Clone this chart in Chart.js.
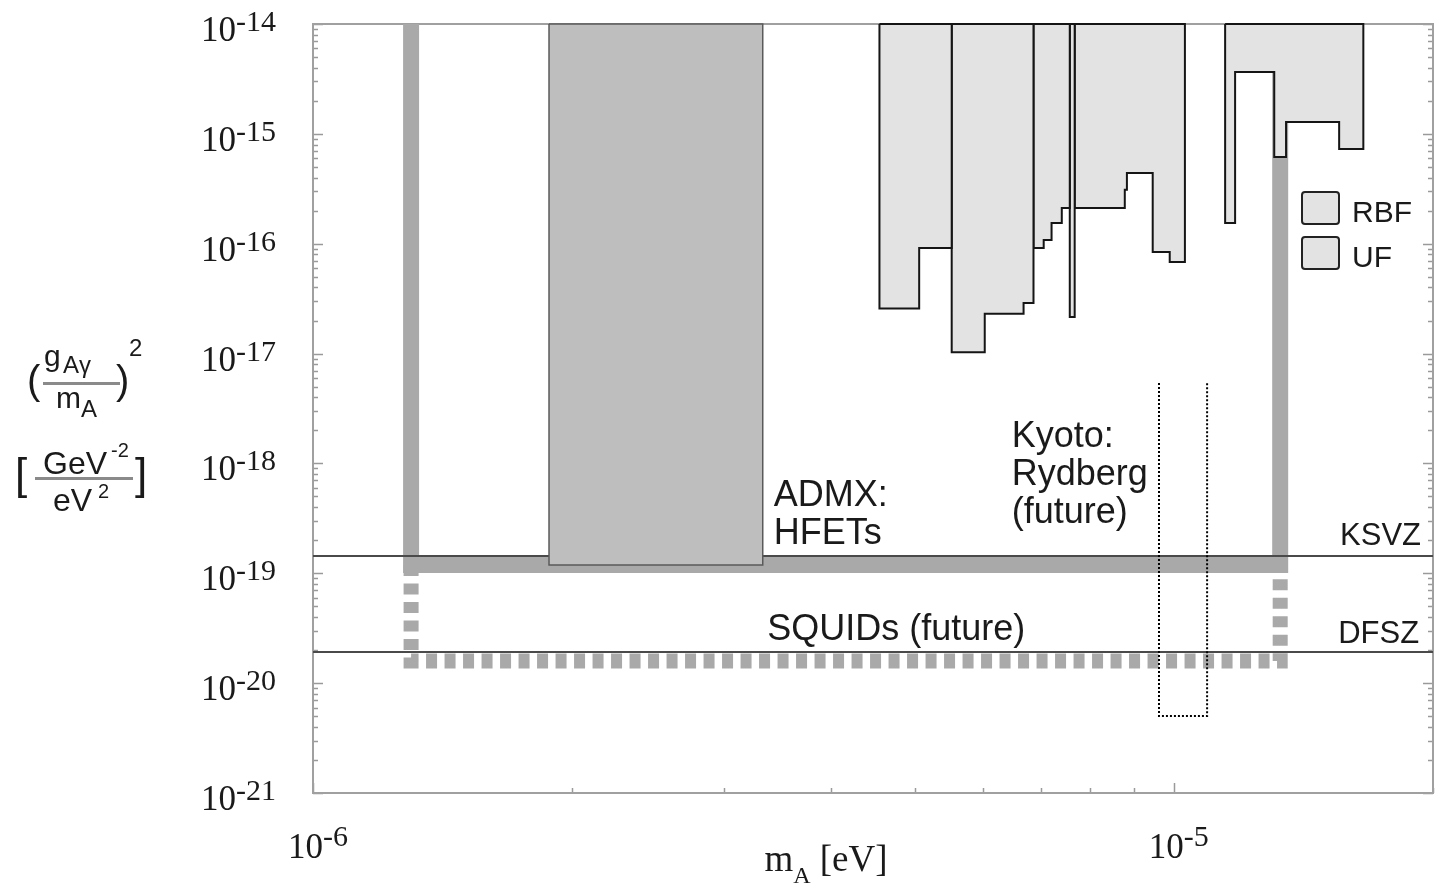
<!DOCTYPE html>
<html>
<head>
<meta charset="utf-8">
<script src="https://cdn.jsdelivr.net/npm/chart.js@4.4.0/dist/chart.umd.min.js"></script>
<style>
  html, body { margin: 0; padding: 0; background: #fff; }
  #wrap { width: 1437px; height: 888px; position: relative; }
</style>
</head>
<body>
<div id="wrap"><canvas id="limitChart"></canvas></div>
<script>
// axis ranges
const xRange = [1e-6, 2e-5];
const yRange = [1e-21, 1e-14];
const xLabelExps = [-6, -5];
const yLabelExps = [-14, -15, -16, -17, -18, -19, -20, -21];

// model lines
const ksvzLevel = 1.44e-19;
const dfszLevel = 1.92e-20;

// ADMX HFET exclusion box
const hfetX = [1.88e-6, 3.33e-6];
const hfetFloor = 1.19e-19;

// ADMX reach (solid) and SQUID future reach (dashed)
const reachX = [1.30e-6, 1.329e-5];
const hfetReach = 1.19e-19;
const squidReach = 1.59e-20;

// Kyoto Rydberg (future)
const kyotoX = [9.61e-6, 1.093e-5];
const kyotoY = [5.02e-21, 5.4e-18];

// RBF / UF exclusion regions, step outlines [x, y]
const rbf1 = [[4.55e-6, 1e-14], [4.55e-6, 2.57e-17], [5.06e-6, 2.57e-17], [5.06e-6, 9.14e-17], [5.52e-6, 9.14e-17], [5.52e-6, 1e-14]];
const uf1 = [[5.52e-6, 1e-14], [5.52e-6, 1.03e-17], [6.03e-6, 1.03e-17], [6.03e-6, 2.30e-17], [6.69e-6, 2.30e-17], [6.69e-6, 2.89e-17], [6.87e-6, 2.89e-17], [6.87e-6, 1e-14]];
const rbf2 = [[6.87e-6, 1e-14], [6.87e-6, 9.14e-17], [7.06e-6, 9.14e-17], [7.06e-6, 1.08e-16], [7.21e-6, 1.08e-16], [7.21e-6, 1.54e-16], [7.41e-6, 1.54e-16], [7.41e-6, 2.11e-16], [7.57e-6, 2.11e-16], [7.57e-6, 1e-14]];
const rbf3 = [[7.57e-6, 1e-14], [7.57e-6, 2.15e-17], [7.67e-6, 2.15e-17], [7.67e-6, 1e-14]];
const rbf4 = [[7.67e-6, 1e-14], [7.67e-6, 2.11e-16], [8.77e-6, 2.11e-16], [8.77e-6, 3.10e-16], [8.82e-6, 3.10e-16], [8.82e-6, 4.40e-16], [9.45e-6, 4.40e-16], [9.45e-6, 8.41e-17], [9.89e-6, 8.41e-17], [9.89e-6, 6.82e-17], [1.03e-5, 6.82e-17], [1.03e-5, 1e-14]];
const rbf5 = [[1.147e-5, 1e-14], [1.147e-5, 1.54e-16], [1.178e-5, 1.54e-16], [1.178e-5, 3.66e-15], [1.308e-5, 3.66e-15], [1.308e-5, 6.15e-16], [1.350e-5, 6.15e-16], [1.350e-5, 1.28e-15], [1.556e-5, 1.28e-15], [1.556e-5, 7.28e-16], [1.660e-5, 7.28e-16], [1.660e-5, 1e-14]];

// text notes (anchored in data units)
const noteText = ['ADMX:', 'HFETs', 'Kyoto:', 'Rydberg', '(future)', 'SQUIDs (future)', 'KSVZ', 'DFSZ'];
const noteX = [3.43e-6, 3.43e-6, 6.48e-6, 6.48e-6, 6.48e-6, 3.37e-6, 1.937e-5, 1.927e-5];
const noteY = [4.10e-19, 1.85e-19, 1.41e-18, 6.37e-19, 2.87e-19, 2.47e-20, 1.81e-19, 2.32e-20];

const ink = '#1a1a1a';
const sans = '"Liberation Sans", Arial, sans-serif';
const serif = '"Liberation Serif", "Times New Roman", serif';
const noteAlign = ['left', 'left', 'left', 'left', 'left', 'left', 'right', 'right'];
const noteSize = [36, 36, 36, 36, 36, 36, 31, 31];

const pts = arr => arr.map(p => ({ x: p[0], y: p[1] }));
const closed = arr => pts(arr.concat([arr[0]]));

function region(label, outline) {
    return {
        label: label,
        data: closed(outline),
        fill: 'shape',
        backgroundColor: '#e3e3e3',
        borderColor: '#151515',
        borderWidth: 2,
        borderJoinStyle: 'miter',
        clip: false,
        order: 3
    };
}

const datasets = [
    {
        label: 'reach',
        data: pts([[reachX[0], yRange[1]], [reachX[0], hfetReach], [reachX[1], hfetReach], [reachX[1], yRange[1]]]),
        borderColor: '#a9a9a9',
        borderWidth: 16,
        borderJoinStyle: 'miter',
        fill: false,
        order: 7
    },
    {
        label: 'squid',
        data: pts([[reachX[0], hfetReach], [reachX[0], squidReach], [reachX[1], squidReach], [reachX[1], hfetReach]]),
        borderColor: '#a9a9a9',
        borderWidth: 15,
        borderDash: [11, 7.5],
        borderJoinStyle: 'miter',
        fill: false,
        order: 7
    },
    {
        label: 'KSVZ',
        data: pts([[xRange[0], ksvzLevel], [xRange[1], ksvzLevel]]),
        borderColor: '#4a4a4a',
        borderWidth: 2,
        fill: false,
        order: 5
    },
    {
        label: 'DFSZ',
        data: pts([[xRange[0], dfszLevel], [xRange[1], dfszLevel]]),
        borderColor: '#4a4a4a',
        borderWidth: 2,
        fill: false,
        order: 5
    },
    {
        label: 'HFET',
        data: closed([[hfetX[0], yRange[1]], [hfetX[0], hfetFloor], [hfetX[1], hfetFloor], [hfetX[1], yRange[1]]]),
        fill: 'shape',
        backgroundColor: '#bebebe',
        borderColor: '#5a5a5a',
        borderWidth: 1.5,
        borderJoinStyle: 'miter',
        clip: false,
        order: 4
    },
    region('RBF', rbf1),
    region('UF', uf1),
    region('RBF', rbf2),
    region('RBF', rbf3),
    region('RBF', rbf4),
    region('RBF', rbf5),
    {
        label: 'Kyoto',
        data: pts([[kyotoX[0], kyotoY[1]], [kyotoX[0], kyotoY[0]], [kyotoX[1], kyotoY[0]], [kyotoX[1], kyotoY[1]]]),
        borderColor: '#000',
        borderWidth: 2,
        borderDash: [2, 2],
        fill: false,
        order: 2
    }
];

// frame and inward ticks
const frameTicks = {
    id: 'frameTicks',
    beforeDatasetsDraw(chart) {
        const { ctx, chartArea: a, scales: { x, y } } = chart;
        ctx.save();
        ctx.strokeStyle = '#9a9a9a';
        ctx.lineWidth = 1.5;
        const seg = (x1, y1, x2, y2) => { ctx.beginPath(); ctx.moveTo(x1, y1); ctx.lineTo(x2, y2); ctx.stroke(); };
        for (let e = -21; e <= -14; e++) {
            for (let k = 1; k <= 9; k++) {
                const v = k * Math.pow(10, e);
                if (v > yRange[1] * 1.0001) break;
                const py = Math.round(y.getPixelForValue(v)) + 0.5;
                const len = k === 1 ? 10 : 5;
                seg(a.left, py, a.left + len, py);
                seg(a.right, py, a.right - len, py);
            }
        }
        for (let e = -6; e <= -5; e++) {
            for (let k = 1; k <= 9; k++) {
                const v = k * Math.pow(10, e);
                if (v > xRange[1] * 1.0001) break;
                const px = Math.round(x.getPixelForValue(v)) + 0.5;
                const len = k === 1 ? 10 : 5;
                seg(px, a.bottom, px, a.bottom - len);
            }
        }
        ctx.lineWidth = 2;
        ctx.strokeStyle = '#a0a0a0';
        ctx.strokeRect(a.left, a.top, a.right - a.left, a.bottom - a.top);
        ctx.restore();
    }
};

// labels, titles, notes, legend
const textLayer = {
    id: 'textLayer',
    afterDraw(chart) {
        const { ctx, chartArea: a, scales: { x, y } } = chart;
        ctx.save();
        ctx.fillStyle = ink;
        ctx.textBaseline = 'alphabetic';

        // y tick labels
        yLabelExps.forEach(e => {
            const py = y.getPixelForValue(Math.pow(10, e));
            const right = a.left - 37;
            ctx.font = '30px ' + serif;
            const sup = '-' + Math.abs(e);
            const sw = ctx.measureText(sup).width;
            ctx.textAlign = 'right';
            ctx.fillText(sup, right, py + 7);
            ctx.font = '35px ' + serif;
            ctx.fillText('10', right - sw, py + 17);
        });

        // x tick labels
        xLabelExps.forEach(e => {
            const px = x.getPixelForValue(Math.pow(10, e));
            ctx.font = '35px ' + serif;
            const bw = ctx.measureText('10').width;
            ctx.font = '30px ' + serif;
            const sup = '-' + Math.abs(e);
            const sw = ctx.measureText(sup).width;
            const left = px + 5 - (bw + sw) / 2;
            ctx.textAlign = 'left';
            ctx.font = '35px ' + serif;
            ctx.fillText('10', left, a.bottom + 65);
            ctx.font = '30px ' + serif;
            ctx.fillText(sup, left + bw, a.bottom + 53);
        });

        // x title: m_A [eV]
        ctx.textAlign = 'left';
        ctx.font = '37px ' + serif;
        const mW = ctx.measureText('m').width;
        const tW = ctx.measureText(' [eV]').width;
        ctx.font = '24px ' + serif;
        const aW = ctx.measureText('A').width;
        const tx = a.left + 513 - (mW + aW + tW) / 2;
        ctx.font = '37px ' + serif;
        ctx.fillText('m', tx, a.bottom + 78);
        ctx.font = '24px ' + serif;
        ctx.fillText('A', tx + mW, a.bottom + 90);
        ctx.font = '37px ' + serif;
        ctx.fillText(' [eV]', tx + mW + aW, a.bottom + 78);

        // y title: (g_Aγ / m_A)^2 [GeV^-2 / eV^2]
        ctx.font = '40px ' + sans;
        ctx.fillText('(', 27, 394);
        ctx.fillText(')', 116, 394);
        ctx.font = '30px ' + sans;
        ctx.fillText('g', 44, 366);
        ctx.fillText('m', 56, 408);
        ctx.font = '24px ' + sans;
        ctx.fillText('A\u03b3', 63, 373);
        ctx.fillText('A', 81, 417);
        ctx.fillText('2', 129, 356);
        ctx.fillStyle = '#8a8a8a';
        ctx.fillRect(43, 382, 77, 3);
        ctx.fillRect(35, 477, 98, 3);
        ctx.fillStyle = ink;
        ctx.font = '44px ' + sans;
        ctx.fillText('[', 15, 489);
        ctx.fillText(']', 135, 489);
        ctx.font = '32px ' + sans;
        ctx.fillText('GeV', 43, 474);
        ctx.fillText('eV', 53, 511);
        ctx.font = '20px ' + sans;
        ctx.fillText('-2', 111, 457);
        ctx.fillText('2', 98, 498);

        // notes
        noteText.forEach((t, i) => {
            ctx.font = noteSize[i] + 'px ' + sans;
            ctx.textAlign = noteAlign[i];
            ctx.fillText(t, x.getPixelForValue(noteX[i]), y.getPixelForValue(noteY[i]));
        });

        // legend
        const seen = [];
        chart.data.datasets.forEach(ds => {
            if (ds.fill === 'shape' && ds.backgroundColor === '#e3e3e3' && !seen.includes(ds.label)) seen.push(ds.label);
        });
        seen.forEach((lbl, i) => {
            const bx = a.right - 131, by = a.top + 168 + i * 45;
            ctx.fillStyle = '#e3e3e3';
            ctx.strokeStyle = '#222';
            ctx.lineWidth = 2;
            ctx.beginPath();
            ctx.roundRect(bx, by, 37, 32, 3);
            ctx.fill();
            ctx.stroke();
            ctx.fillStyle = ink;
            ctx.font = '30px ' + sans;
            ctx.textAlign = 'left';
            ctx.fillText(lbl, bx + 50, by + 30);
        });
        ctx.restore();
    }
};

new Chart(document.getElementById('limitChart').getContext('2d'), {
    type: 'line',
    data: { datasets: datasets },
    options: {
        responsive: true,
        maintainAspectRatio: false,
        animation: false,
        events: [],
        layout: { padding: { left: 313, top: 24, right: 4, bottom: 95 } },
        elements: { point: { radius: 0, hoverRadius: 0 }, line: { tension: 0 } },
        scales: {
            x: { type: 'logarithmic', min: xRange[0], max: xRange[1], display: false },
            y: { type: 'logarithmic', min: yRange[0], max: yRange[1], display: false }
        },
        plugins: {
            legend: { display: false },
            tooltip: { enabled: false }
        }
    },
    plugins: [frameTicks, textLayer]
});
</script>
</body>
</html>
